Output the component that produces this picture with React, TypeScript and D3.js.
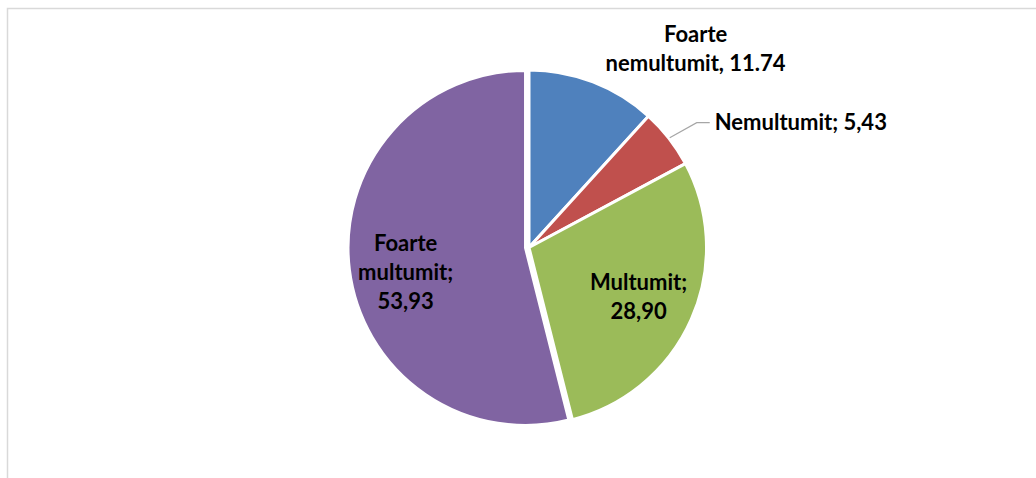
import React from "react";
import * as d3 from "d3";

const categories = ["Foarte nemultumit", "Nemultumit", "Multumit", "Foarte multumit"];
const values = [11.74, 5.43, 28.9, 53.93];
const valueLabels = ["11.74", "5,43", "28,90", "53,93"];
const labelLines = [
  ["Foarte", "nemultumit, 11.74"],
  ["Nemultumit; 5,43"],
  ["Multumit;", "28,90"],
  ["Foarte", "multumit;", "53,93"],
];
const colors = ["#4F81BD", "#C0504D", "#9BBB59", "#8064A2"];

const W = 1036;
const H = 478;
const cx = 529;
const cy = 247.5;
const R = 177.5;
const FONT = 22;
const LH = 29;

export default function App() {
  const pie = d3.pie<number>().sort(null).value((d) => d)(values);
  const arc = d3.arc<d3.PieArcDatum<number>>().innerRadius(0).outerRadius(R);
  const explode = [0, 0, 0, 3.5];

  const text = (lines: string[], x: number, y: number, anchor: string, key: string) => (
    <text key={key} x={x} y={y} textAnchor={anchor} fontFamily="Lato, 'Open Sans', sans-serif" fontWeight={700} fontSize={FONT} fill="#000">
      {lines.map((l, i) => (
        <tspan key={i} x={x} y={y + (i - (lines.length - 1) / 2) * LH + FONT * 0.35}>
          {l}
        </tspan>
      ))}
    </text>
  );

  const labels: React.ReactNode[] = [];
  pie.forEach((p, i) => {
    const mid = (p.startAngle + p.endAngle) / 2;
    const ox = explode[i] * Math.sin(mid);
    const oy = -explode[i] * Math.cos(mid);
    if (i === 2 || i === 3) {
      const k = 0.675 * R;
      const [lx, ly] = d3.arc<d3.PieArcDatum<number>>().innerRadius(k).outerRadius(k).centroid(p);
      const nudge = i === 3 ? [-1, 10] : [0, 1];
      labels.push(text(labelLines[i], cx + lx + ox + nudge[0], cy + ly + oy + nudge[1], "middle", "l" + i));
    } else if (i === 0) {
      // outside, above-right
      const ex = cx + (R + 10) * Math.sin(mid) + 99;
      const ey = cy - (R + 10) * Math.cos(mid) - 24;
      labels.push(text(labelLines[i], ex, ey, "middle", "l" + i));
    } else {
      const sx = cx + (R + 1) * Math.sin(mid);
      const sy = cy - (R + 1) * Math.cos(mid);
      const bx = sx + 27;
      const by = sy - 15;
      const tx = bx + 13;
      labels.push(
        <polyline key="lead" points={`${sx},${sy} ${bx},${by} ${tx},${by}`} fill="none" stroke="#A6A6A6" strokeWidth={1.2} />
      );
      labels.push(text(labelLines[i], tx + 5, by, "start", "l" + i));
    }
  });

  return (
    <svg width={W} height={H} style={{ position: "absolute", left: 0, top: 0, background: "#fff" }}>
      <rect x={7.5} y={8.5} width={W + 20} height={H + 20} fill="#fff" stroke="#D9D9D9" strokeWidth={1.5} />
      <g>
        {pie.map((p, i) => {
          const mid = (p.startAngle + p.endAngle) / 2;
          const ox = explode[i] * Math.sin(mid);
          const oy = -explode[i] * Math.cos(mid);
          return (
            <path
              key={categories[i]}
              d={arc(p) || ""}
              transform={`translate(${cx + ox},${cy + oy})`}
              fill={colors[i]}
              stroke="#fff"
              strokeWidth={3}
              strokeLinejoin="round"
            >
              <title>{`${categories[i]}: ${valueLabels[i]}`}</title>
            </path>
          );
        })}
      </g>
      {labels}
    </svg>
  );
}
